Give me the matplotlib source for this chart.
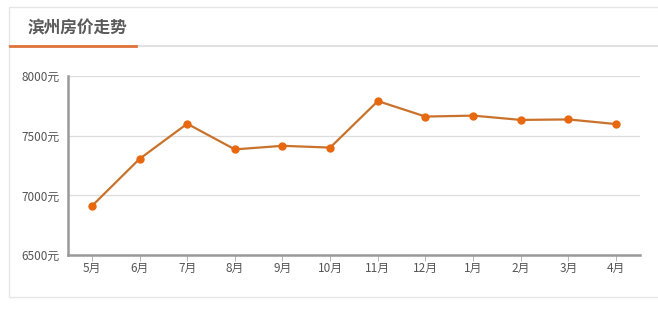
import matplotlib
matplotlib.use("Agg")
import matplotlib.pyplot as plt
from matplotlib.lines import Line2D
from matplotlib.patches import Rectangle

plt.rcParams['font.family'] = ['Noto Sans CJK SC', 'DejaVu Sans']

title = "滨州房价走势"
months = ["5月", "6月", "7月", "8月", "9月", "10月", "11月", "12月", "1月", "2月", "3月", "4月"]
prices = [6910, 7305, 7600, 7385, 7415, 7400, 7790, 7660, 7668, 7632, 7636, 7597]
yticks = [6500, 7000, 7500, 8000]
ytick_labels = ["6500元", "7000元", "7500元", "8000元"]

W, H = 658, 310
fig = plt.figure(figsize=(W / 100, H / 100), dpi=100)
fig.patch.set_facecolor("white")

# outer panel border
fig.add_artist(Rectangle((9 / W, 1 - 297 / H), (660 - 9) / W, (297 - 7) / H,
                         transform=fig.transFigure, fill=False,
                         edgecolor="#e6e6e6", linewidth=1.0))
# header separator + orange underline
fig.add_artist(Line2D([9 / W, 1], [1 - 46 / H] * 2, transform=fig.transFigure,
                      color="#dcdcdc", linewidth=1.2))
fig.add_artist(Line2D([10 / W, 136 / W], [1 - 45.5 / H] * 2, transform=fig.transFigure,
                      color="#e0733a", linewidth=2.0))
fig.text(27 / W, 1 - 28 / H, title, fontsize=12, fontweight="bold",
         color="#5a5a5a", va="center", ha="left")

ax = fig.add_axes([68 / W, 1 - 255 / H, (640 - 68) / W, (255 - 76) / H])
ax.set_facecolor("white")
x = list(range(len(months)))
ax.plot(x, prices, color="#c9722b", linewidth=1.6, zorder=3,
        marker="o", markersize=5, markerfacecolor="#e8680f",
        markeredgecolor="#e8680f")
ax.set_xlim(-0.5, len(months) - 0.5)
ax.set_ylim(6500, 8000)
ax.set_yticks(yticks)
ax.set_yticklabels(ytick_labels)
ax.set_xticks(x)
ax.set_xticklabels(months)
ax.grid(axis="y", color="#dddddd", linewidth=0.9)
ax.set_axisbelow(True)
for s in ["top", "right"]:
    ax.spines[s].set_visible(False)
ax.spines["left"].set_color("#999999")
ax.spines["left"].set_linewidth(1.8)
ax.spines["bottom"].set_color("#999999")
ax.spines["bottom"].set_linewidth(1.8)
ax.tick_params(axis="y", length=0, pad=6, labelsize=8.5, labelcolor="#555555")
ax.tick_params(axis="x", length=4, width=0.6, color="#aaaaaa", direction="out",
               pad=1, labelsize=8.5, labelcolor="#555555")

fig.savefig("out.png", dpi=100, facecolor="white")
